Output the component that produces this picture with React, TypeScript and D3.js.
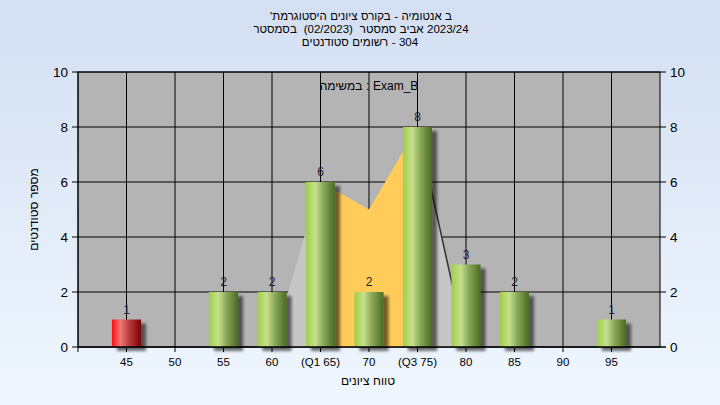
import React, { useLayoutEffect, useRef } from "react";
import * as d3 from "d3";

// Text tokens in left-to-right visual order, with the number of spaces before each token.
const titleLine1 = ["'", "היסטוגרמת", "ציונים", "בקורס", "-", "אנטומיה", "ב"];
const titleGap1 = [0, 0, 1, 1, 1, 1, 1];
const titleLine2 = ["בסמסטר", "(02/2023)", "סמסטר", "אביב", "2023/24"];
const titleGap2 = [0, 2, 2, 1, 1];
const titleLine3 = ["סטודנטים", "רשומים", "-", "304"];
const titleGap3 = [0, 1, 1, 1];
const subtitleTokens = ["במשימה", ":", "Exam_B"];
const subtitleGaps = [0, 1, 1];
const yTitleTokens = ["סטודנטים", "מספר"];
const xTitleTokens = ["ציונים", "טווח"];
const titleGapsTwo = [0, 1];

const categories = [45, 50, 55, 60, 65, 70, 75, 80, 85, 90, 95];
const counts = [1, 0, 2, 2, 6, 2, 8, 3, 2, 0, 1];
const tickLabels = ["45", "50", "55", "60", "(Q1 65)", "70", "(Q3 75)", "80", "85", "90", "95"];
const failBelow = 55;
const curveX = [60, 65, 70, 75, 80];
const curveY = [0, 6, 5, 8, 0];
const q1 = 65;
const q3 = 75;
const yTicks = [0, 2, 4, 6, 8, 10];

const W = 720;
const H = 405;
const L = 78, R = 660, T = 72, B = 347;
const FONT = "'Liberation Sans', 'DejaVu Sans', Arial, sans-serif";

function TokenLine(props: { tokens: string[]; gaps: number[]; x: number; y: number; size: number; transform?: string }) {
  const { tokens, gaps, x, y, size, transform } = props;
  return (
    <g className="tokline" data-cx={x} data-space={size * 0.3} transform={transform}>
      {tokens.map((t, i) => (
        <text key={i} x={x} y={y} data-gap={gaps[i]} fontSize={size} fill="#000" textAnchor="start" style={{ direction: "ltr" }}>
          {t}
        </text>
      ))}
    </g>
  );
}

export default function App() {
  const svgRef = useRef<SVGSVGElement>(null);
  const x = d3.scaleLinear().domain([40, 100]).range([L, R]);
  const y = d3.scaleLinear().domain([0, 10]).range([B, T]);
  const barW = (x(45) - x(40)) * 0.6;

  useLayoutEffect(() => {
    if (!svgRef.current) return;
    d3.select(svgRef.current)
      .selectAll<SVGGElement, unknown>("g.tokline")
      .each(function () {
        const cx = +(this.getAttribute("data-cx") || 0);
        const sp = +(this.getAttribute("data-space") || 3);
        const texts = Array.from(this.querySelectorAll("text")) as SVGTextElement[];
        const widths = texts.map((t) => t.getComputedTextLength());
        const gaps = texts.map((t) => +(t.getAttribute("data-gap") || 0) * sp);
        const total = d3.sum(widths) + d3.sum(gaps);
        let pos = cx - total / 2;
        texts.forEach((t, i) => {
          pos += gaps[i];
          t.setAttribute("x", String(pos));
          pos += widths[i];
        });
      });
  }, []);

  const pts = curveX.map((v, i) => [v, curveY[i]] as [number, number]);
  const area = d3
    .area<[number, number]>()
    .x((d) => x(d[0]))
    .y0(y(0))
    .y1((d) => y(d[1]));
  const seg = (a: number, b: number) => pts.filter((p) => p[0] >= a && p[0] <= b);
  const line = d3
    .line<[number, number]>()
    .x((d) => x(d[0]))
    .y((d) => y(d[1]));

  return (
    <svg ref={svgRef} width={W} height={H} style={{ position: "fixed", left: 0, top: 0 }} fontFamily={FONT}>
      <defs>
        <linearGradient id="bg" x1="0" y1="0" x2="0" y2="1">
          <stop offset="0" stopColor="#d3dff2" />
          <stop offset="1" stopColor="#eff6fe" />
        </linearGradient>
        <linearGradient id="green" x1="0" y1="0" x2="1" y2="0">
          <stop offset="0" stopColor="#9fcf45" />
          <stop offset="0.32" stopColor="#c6e08e" />
          <stop offset="0.6" stopColor="#8aa858" />
          <stop offset="1" stopColor="#4a6a22" />
        </linearGradient>
        <linearGradient id="red" x1="0" y1="0" x2="1" y2="0">
          <stop offset="0" stopColor="#ff1010" />
          <stop offset="0.3" stopColor="#ee7878" />
          <stop offset="0.6" stopColor="#b83a3a" />
          <stop offset="1" stopColor="#7a0000" />
        </linearGradient>
        <filter id="shadow" x="-30%" y="-10%" width="170%" height="130%">
          <feGaussianBlur in="SourceAlpha" stdDeviation="1.8" />
          <feOffset dx="5" dy="4" result="off" />
          <feComponentTransfer>
            <feFuncA type="linear" slope="0.55" />
          </feComponentTransfer>
          <feMerge>
            <feMergeNode />
            <feMergeNode in="SourceGraphic" />
          </feMerge>
        </filter>
      </defs>
      <rect x={0} y={0} width={W} height={H} fill="url(#bg)" />

      <TokenLine tokens={titleLine1} gaps={titleGap1} x={361} y={20} size={11.5} />
      <TokenLine tokens={titleLine2} gaps={titleGap2} x={361} y={33} size={11.5} />
      <TokenLine tokens={titleLine3} gaps={titleGap3} x={360} y={46} size={11.5} />

      <rect x={L} y={T} width={R - L} height={B - T} fill="#b4b4b4" />

      {yTicks.map((t) => (
        <line key={"gy" + t} x1={L} x2={R} y1={y(t)} y2={y(t)} stroke="#000" strokeWidth={1} />
      ))}
      {categories.map((c) => (
        <line key={"gx" + c} x1={x(c)} x2={x(c)} y1={T} y2={B} stroke="#000" strokeWidth={1} />
      ))}

      <path d={area(seg(curveX[0], q1)) || ""} fill="#c6c6c6" />
      <path d={area(seg(q1, q3)) || ""} fill="#ffcc5a" />
      <path d={area(seg(q3, curveX[curveX.length - 1])) || ""} fill="#c6c6c6" />
      <path d={line(seg(q3, curveX[curveX.length - 1])) || ""} fill="none" stroke="#333" strokeWidth={1.5} />

      <TokenLine tokens={subtitleTokens} gaps={subtitleGaps} x={(L + R) / 2} y={90} size={12} />

      {categories.map((c, i) =>
        counts[i] > 0 ? (
          <rect
            key={"b" + c}
            x={x(c) - barW / 2}
            y={y(counts[i])}
            width={barW}
            height={y(0) - y(counts[i])}
            fill={c < failBelow ? "url(#red)" : "url(#green)"}
            filter="url(#shadow)"
          />
        ) : null
      )}
      {categories.map((c, i) =>
        counts[i] > 0 ? (
          <text key={"l" + c} x={x(c)} y={y(counts[i]) - 6} textAnchor="middle" fontSize={12} fill="#1c1c3c">
            {counts[i]}
          </text>
        ) : null
      )}

      <rect x={L} y={T} width={R - L} height={B - T} fill="none" stroke="#000" strokeWidth={1} />
      <line x1={L} x2={R + 6} y1={B} y2={B} stroke="#000" />
      <line x1={L} x2={L} y1={T} y2={B + 5} stroke="#000" />
      {yTicks.map((t) => (
        <g key={"yt" + t}>
          <line x1={L - 6} x2={L} y1={y(t)} y2={y(t)} stroke="#000" />
          <line x1={R} x2={R + 6} y1={y(t)} y2={y(t)} stroke="#000" />
          <text x={L - 10} y={y(t) + 5} textAnchor="end" fontSize={13.5} fill="#000">
            {t}
          </text>
          <text x={R + 10} y={y(t) + 5} textAnchor="start" fontSize={13.5} fill="#000">
            {t}
          </text>
        </g>
      ))}
      {categories.map((c, i) => (
        <g key={"xt" + c}>
          <line x1={x(c)} x2={x(c)} y1={B} y2={B + 5} stroke="#000" />
          <text x={x(c)} y={366} textAnchor="middle" fontSize={11.5} fill="#000">
            {tickLabels[i]}
          </text>
        </g>
      ))}

      <TokenLine tokens={xTitleTokens} gaps={titleGapsTwo} x={368} y={385} size={12} />
      <TokenLine
        tokens={yTitleTokens}
        gaps={titleGapsTwo}
        x={0}
        y={0}
        size={12}
        transform={`translate(38,${(T + B) / 2}) rotate(-90)`}
      />
    </svg>
  );
}
